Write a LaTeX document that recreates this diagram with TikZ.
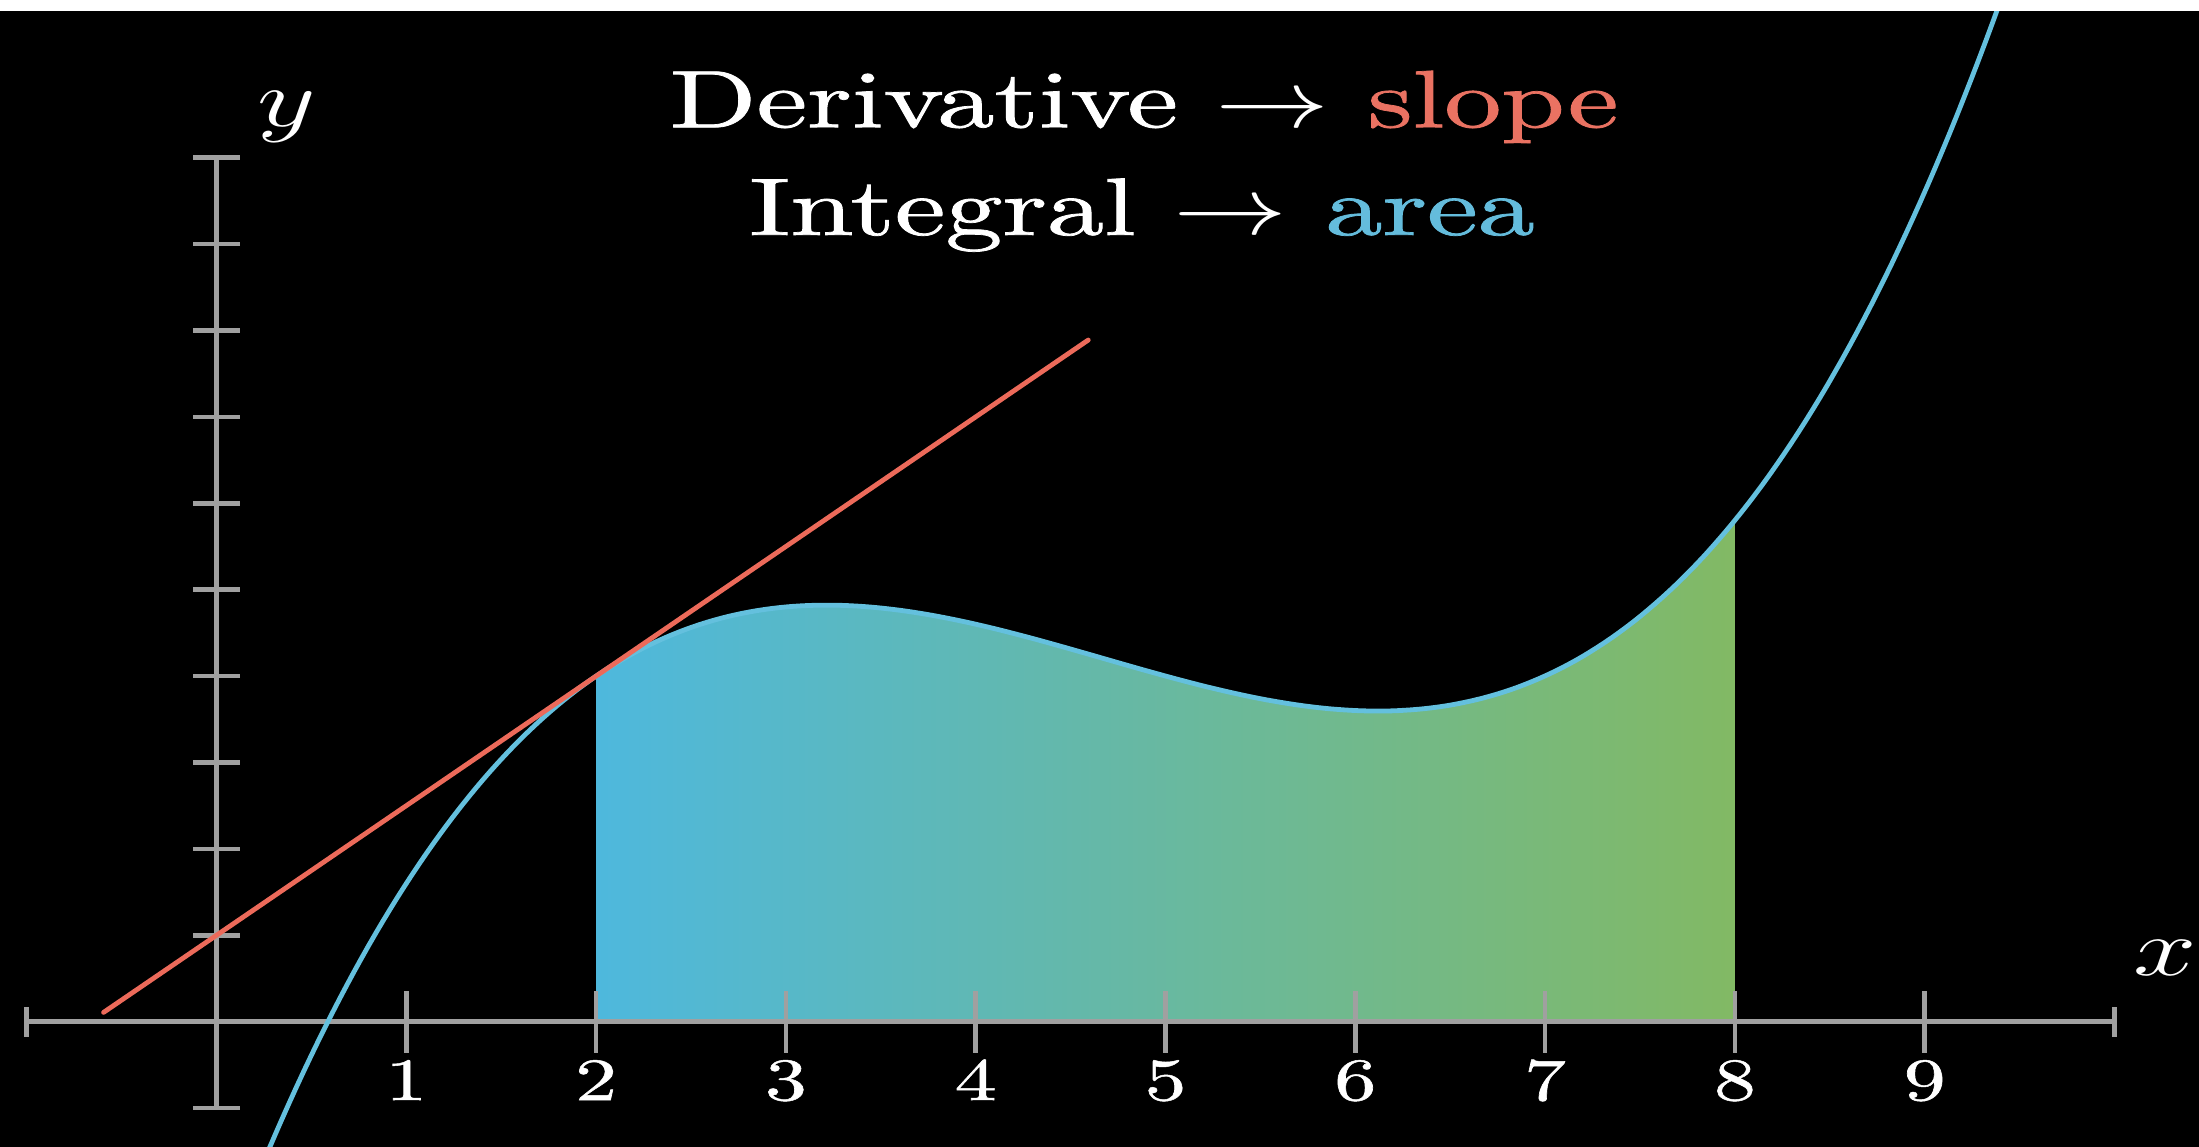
\RequirePackage{fix-cm}
\documentclass[tikz,border=0pt]{standalone}
\usepackage{graphicx}
\usepackage{xcolor}
\definecolor{axisgray}{RGB}{160,160,160}
\definecolor{curveblue}{RGB}{100,192,222}
\definecolor{slopered}{RGB}{236,106,90}
\definecolor{slopetext}{RGB}{234,114,98}
\definecolor{areatext}{RGB}{100,188,220}
\definecolor{areaL}{RGB}{78,184,221}
\definecolor{areaR}{RGB}{130,185,100}
\font\ttlfont="[lmroman10-regular.otf]:mapping=tex-text;embolden=0.9" at 40.7pt
\font\numfont="[lmroman10-regular.otf]:mapping=tex-text;embolden=0.8" at 30pt
\begin{document}
\begin{tikzpicture}[x=94.9pt, y=43.2pt,
  declare function={f(\t)=0.1*\t*\t*\t-1.4*\t*\t+5.9*\t-3;},
  axisline/.style={draw=axisgray, line width=2.5pt},
  tickline/.style={draw=axisgray, line width=2.3pt},
  curveline/.style={draw=curveblue, line width=2.4pt},
  tangentline/.style={draw=slopered, line width=2.4pt, line cap=round},
  titletext/.style={text=white, anchor=base, inner sep=0pt, font=\fontsize{40.7}{48}\selectfont\ttlfont},
  axislabel/.style={text=white, anchor=base, inner sep=0pt, font=\fontsize{40.7}{48}\selectfont},
  numlabel/.style={text=white, anchor=base, inner sep=0pt, font=\fontsize{30}{36}\selectfont\numfont}]
\useasboundingbox (-1.1407,-1.4502) rectangle (10.4452,11.8252);
\begin{scope}
\clip (-1.1407,-1.4502) rectangle (10.4452,11.8252);
\fill[black] (-1.1407,-1.4502) rectangle (10.4452,11.8252);
% area under the curve
\shade[left color=areaL, right color=areaR] (2,0) -- plot[domain=2:8, samples=120] (\x,{f(\x)}) -- (8,0) -- cycle;
% x axis
\draw[axisline] (-1,0) -- (10,0);
\foreach \i in {1,...,9} { \draw[tickline] (\i,-0.36) -- (\i,0.36); }
\draw[tickline] (-1,-0.174) -- (-1,0.174);
\draw[tickline] (10,-0.174) -- (10,0.174);
% y axis
\draw[axisline] (0,-1) -- (0,10);
\foreach \j in {-1,1,2,3,4,5,6,7,8,9,10} { \draw[tickline] (-0.122,\j) -- (0.122,\j); }
% curve
\draw[curveline] plot[domain=0.12:9.55, samples=250] (\x,{f(\x)});
% tangent line
\coordinate (tA) at (-0.595,0.1075);
\coordinate (tB) at (4.593,7.8895);
\draw[tangentline] (tA) -- (tB);
% labels
\node[titletext] (line1) at (4.887,10.352) {\scalebox{1.4}[1]{Derivative $\rightarrow$ \textcolor{slopetext}{slope}}};
\node[titletext] (line2) at (4.876,9.106) {\scalebox{1.4}[1]{Integral $\rightarrow$ \textcolor{areatext}{area}}};
\node[axislabel] (ylab) at (0.371,10.36) {\scalebox{1.4}[1]{$y$}};
\node[axislabel] (xlab) at (10.266,0.54) {\scalebox{1.4}[1]{$x$}};
\foreach \i in {1,...,9} { \node[numlabel] (num\i) at (\i,-0.907) {\scalebox{1.4}[1]{\i}}; }
% white strip at the top
\fill[white] (-1.1407,11.6979) rectangle (10.4452,11.8252);
\end{scope}
\end{tikzpicture}
\end{document}
